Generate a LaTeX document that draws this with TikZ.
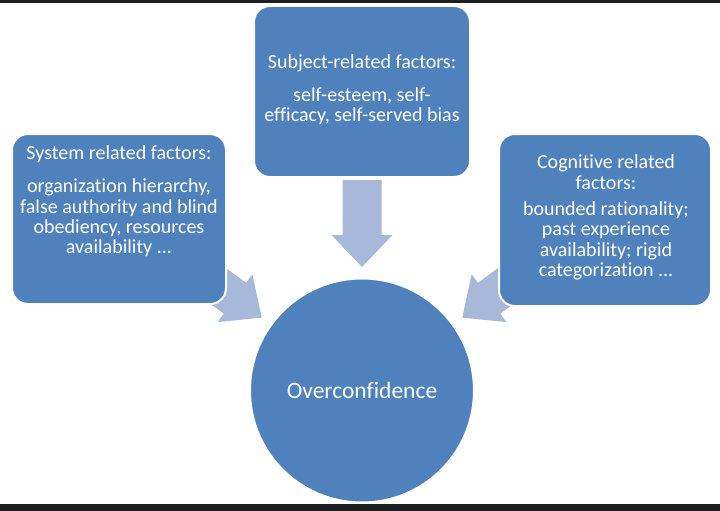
\documentclass[tikz,border=0pt]{standalone}
\usepackage{fontspec}
\setmainfont{Carlito}[Ligatures={NoCommon}]
\usetikzlibrary{calc}
\definecolor{boxblue}{HTML}{4F81BD}
\definecolor{arrowblue}{HTML}{A8B8D8}
\definecolor{barcol}{HTML}{1E1E1E}
\begin{document}
\begin{tikzpicture}[x=1pt,y=-1pt,
  box/.style={draw=white, line width=2pt, fill=boxblue, rounded corners=16pt, inner sep=0pt},
  txt/.style={text=white, align=center, inner sep=0pt, anchor=north, font=\fontsize{20}{20.3}\selectfont},
  blockarrow/.style={fill=arrowblue, draw=none}]
\useasboundingbox (0,0) rectangle (720,511);
\fill[white] (0,0) rectangle (720,511);
\fill[barcol] (0,0) rectangle (720,3);
\fill[barcol] (0,504) rectangle (720,511);

% central circle
\node[circle, fill=boxblue, draw=white, line width=2pt, minimum size=224pt, inner sep=0pt,
      text=white, font=\fontsize{23.5}{26}\selectfont] (ov) at (362,390.5) {Overconfidence};

% arrow tips
\coordinate (tipT) at ($(ov.center)+(0,-123.5)$);
\coordinate (tipL) at ($(ov.center)+(-100.3,-72.9)$);
\coordinate (tipR) at ($(ov.center)+(100.3,-72.9)$);

% block arrows
\fill[blockarrow, shift={(tipT)}, rotate=-90]
  (0,0) -- (-32,30.5) -- (-32,19.5) -- (-87,19.5) -- (-87,-19.5) -- (-32,-19.5) -- (-32,-30.5) -- cycle;
\fill[blockarrow, shift={(tipL)}, rotate=-36]
  (0,0) -- (-33,29.5) -- (-33,19) -- (-90,19) -- (-90,-19) -- (-33,-19) -- (-33,-29.5) -- cycle;
\fill[blockarrow, shift={(tipR)}, rotate=-144]
  (0,0) -- (-33,29.5) -- (-33,19) -- (-90,19) -- (-90,-19) -- (-33,-19) -- (-33,-29.5) -- cycle;

% boxes
\node[box, minimum width=214pt, minimum height=170pt] (sys) at (119,219) {};
\node[box, minimum width=216pt, minimum height=171pt] (sub) at (362,91.5) {};
\node[box, minimum width=212pt, minimum height=172pt] (cog) at (605,220) {};

% box texts
\node[txt] (systxt) at (119,145.5) {System related factors:\\[13pt]organization hierarchy,\\false authority and blind\\obediency, resources\\availability ...};
\node[txt] (subtxt) at (362,54.8) {Subject-related factors:\\[12pt]self-esteem, self-\\efficacy, self-served bias};
\node[txt] (cogtxt) at (606,154.8) {Cognitive related\\factors:\\[6pt]bounded rationality;\\past experience\\availability; rigid\\categorization ...};
\end{tikzpicture}
\end{document}
